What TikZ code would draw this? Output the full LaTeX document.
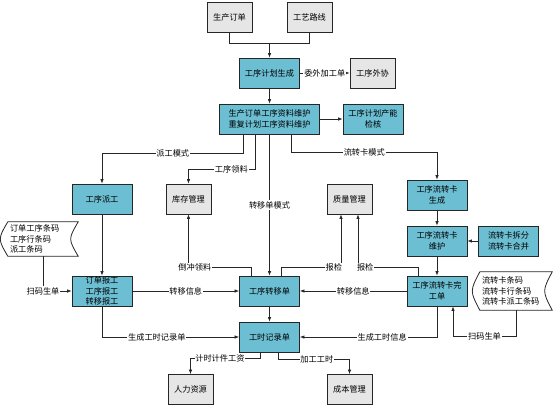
\documentclass[tikz,border=0pt]{standalone}
\usepackage{fontspec}
\setmainfont{Noto Sans CJK SC}
\usepackage{tikz}
\usepackage{xcolor}
\usetikzlibrary{arrows.meta}
\definecolor{procblue}{RGB}{108,190,210}
\definecolor{sysgray}{RGB}{230,230,230}

\begin{document}
\begin{tikzpicture}[x=1bp, y=-1bp, >={Latex[length=4.5bp,width=3.5bp]},
	font=\fontsize{8.2bp}{10.5bp}\selectfont,
	proc/.style={draw=black!85, line width=0.8bp, fill=procblue, minimum width=60bp, minimum height=30bp, align=center, inner sep=0.5bp},
	sys/.style={proc, fill=sysgray, minimum width=45bp},
	doc/.style={align=left, inner xsep=2bp, inner ysep=0bp},
	link/.style={->, draw=black!85, line width=0.7bp},
	lbl/.style={fill=white, inner sep=0.8bp}]
	\useasboundingbox (0,0) rectangle (555,408);
	\node[sys] (order) at (229.5,17) {生产订单};
	\node[sys] (route) at (309.5,17) {工艺路线};
	\node[proc] (plan) at (269.5,73) {工序计划生成};
	\node[sys] (outsrc) at (372.5,73) {工序外协};
	\node[proc, minimum width=100bp] (maint) at (269.5,119) {生产订单工序资料维护\\重复计划工序资料维护};
	\node[proc] (capchk) at (373,119) {工序计划产能\\检核};
	\node[proc] (dispatch) at (102,199) {工序派工};
	\node[sys] (stock) at (188.5,199) {库存管理};
	\node[sys] (quality) at (349.5,199) {质量管理};
	\node[proc] (cardgen) at (437,195) {工序流转卡\\生成};
	\node[proc] (cardmaint) at (437,241) {工序流转卡\\维护};
	\node[proc] (cardsplit) at (508.5,241) {流转卡拆分\\流转卡合并};
	\node[proc] (report) at (102,291) {订单报工\\工序报工\\转移报工};
	\node[proc] (transfer) at (269.5,291) {工序转移单};
	\node[proc] (cardfin) at (437,291) {工序流转卡完\\工单};
	\node[proc] (hours) at (269.5,337) {工时记录单};
	\node[sys] (hr) at (190.5,389.5) {人力资源};
	\node[sys] (cost) at (349.5,389.5) {成本管理};
	\node[doc, text width=66bp, minimum height=34bp] (codeL) at (43,239) {订单工序条码\\工序行条码\\派工条码};
	\node[doc, text width=68bp, minimum height=38bp] (codeR) at (516,291) {流转卡条码\\流转卡行条码\\流转卡派工条码};
	\foreach \d in {codeL,codeR}
	{
		\draw[draw=black!85, line width=0.8bp] (\d.north west) -- (\d.north east) .. controls ([xshift=-10bp]\d.east) .. (\d.south east) -- (\d.south west) .. controls ([xshift=-10bp]\d.west) .. (\d.north west) -- cycle;
	}
	\coordinate (join) at (269.5,43);
	\draw[link, -] (order) |- (join);
	\draw[link, -] (route) |- (join);
	\draw[link] (join) -- (plan);
	\draw[link] (plan) -- node[lbl]{委外加工单} (outsrc);
	\draw[link] (plan) -- (maint);
	\draw[link] (maint) -- (capchk);
	\draw[link] ([xshift=-26bp]maint.south) -- ++(0,19) -| node[lbl, pos=.25]{派工模式} (dispatch);
	\draw[link] ([xshift=-14bp]maint.south) -- ++(0,35) -| node[lbl, pos=.18]{工序领料} (stock);
	\draw[link] (maint) -- node[lbl]{转移单模式} (transfer);
	\draw[link] ([xshift=22bp]maint.south) -- ++(0,18) -| node[lbl, pos=.25]{流转卡模式} (cardgen);
	\draw[link] (cardgen) -- (cardmaint);
	\draw[link] (cardsplit) -- (cardmaint);
	\draw[link] (cardmaint) -- (cardfin);
	\draw[link] (dispatch) -- (report);
	\draw[link] (codeL) |- node[lbl, pos=.5]{扫码生单} (report);
	\draw[link] (report) -- node[lbl]{转移信息} (transfer);
	\draw[link] (report) |- node[lbl, pos=.7]{生成工时记录单} (hours);
	\draw[link] (transfer) -- (hours);
	\draw[link] ([xshift=-18bp]transfer.north) -- ++(0,-8) -| node[lbl, pos=.45]{倒冲领料} (stock);
	\draw[link] ([xshift=12bp]transfer.north) -- ++(0,-8) -| node[lbl, pos=.44]{报检} ([xshift=-8.5bp]quality.south);
	\draw[link] ([xshift=-19bp]cardfin.north) -- ++(0,-8) -| node[lbl, pos=.44]{报检} ([xshift=8.5bp]quality.south);
	\draw[link] (cardfin) -- node[lbl]{转移信息} (transfer);
	\draw[link] (cardfin) |- node[lbl, pos=.7]{生成工时信息} (hours);
	\draw[link] (codeR.south) -- ++(0,26) -| node[lbl, pos=.25]{扫码生单} ([xshift=16bp]cardfin.south);
	\draw[link] ([xshift=-9bp]hours.south) -- ++(0,6) -| node[lbl, pos=.29]{计时计件工资} (hr);
	\draw[link] ([xshift=9bp]hours.south) -- ++(0,7) -| node[lbl, pos=.27]{加工工时} (cost);
\end{tikzpicture}
\end{document}
